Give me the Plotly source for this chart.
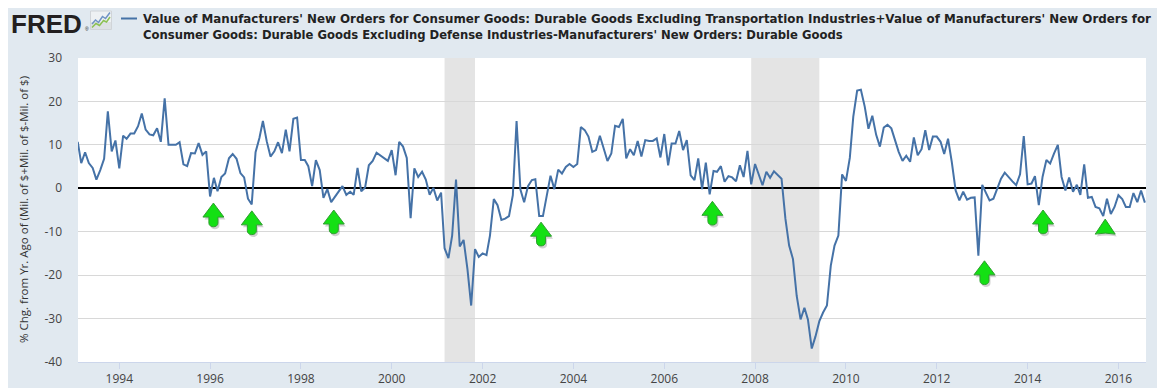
import pandas as pd
import plotly.graph_objects as go

# ---------------- data ----------------
values = [
    10.7, 5.8, 8.3, 5.8, 4.7, 2.0, 4.2, 6.8, 17.7, 8.5,
    11.0, 4.6, 12.1, 11.4, 12.6, 12.6, 14.3, 17.2, 13.5, 12.4,
    12.2, 13.8, 10.7, 20.7, 10.0, 10.0, 10.0, 10.6, 5.5, 5.1,
    8.1, 8.0, 10.4, 7.7, 8.5, -1.9, 2.4, -0.7, 2.6, 3.4,
    6.9, 7.9, 6.8, 3.5, 2.5, -2.4, -3.7, 8.3, 11.6, 15.5,
    10.8, 7.3, 8.5, 10.6, 8.1, 13.5, 8.5, 16.0, 16.3, 6.5,
    6.5, 5.1, 0.5, 6.5, 4.2, -2.2, -0.2, -3.2, -2.0, -0.7,
    0.5, -1.5,
    -0.8, -1.5, 4.7, -0.7, 0.2, 5.3, 6.3, 8.2, 7.6, 7.1,
    6.3, 8.8, 3.0, 10.7, 9.6, 7.0, -6.9, 4.6, 2.6, 3.8,
    2.0, -1.5, 0.1, -2.8, -1.0, -13.8, -16.1, -10.9, 2.0, -13.4,
    -11.9, -18.6, -27.0, -14.0, -15.8, -15.0, -15.4, -10.9, -2.5, -3.9,
    -7.3, -7.0, -6.4, -1.6, 15.5, -0.3, -3.2, 0.5, 1.9, 2.1,
    -6.4, -6.4, -1.6, 2.9, -0.2, 4.3, 3.4, 4.9, 5.6, 4.9,
    5.6, 14.1, 13.4, 11.9, 8.4, 8.8, 12.1, 9.2, 6.3, 8.0,
    14.4, 14.1, 16.0, 6.9, 9.0, 7.6, 10.9, 7.3, 11.1, 10.9,
    10.9, 11.5, 7.1, 12.5, 5.3, 10.3, 10.3, 13.2, 8.8, 11.1,
    3.0, 1.9, 6.9, -0.2, 5.9, -1.4, 4.0, 3.8, 5.1, 1.5,
    2.8, 2.5, 1.6, 5.3, 2.6, 8.6, 0.9, 5.6, 3.0, 0.7,
    3.8, 2.4, 3.9, 3.0, 2.2, -7.0, -13.2, -16.3, -24.8, -30.2,
    -27.5, -30.2, -36.9, -34.1, -30.6, -28.6, -27.0, -17.8, -13.2, -10.9,
    3.2, 1.7, 7.0, 16.5, 22.5, 22.7, 18.8, 13.7, 16.7, 12.3,
    9.6, 14.0, 14.6, 13.8, 11.1, 8.4, 6.3, 7.5, 6.1, 11.7,
    7.6, 9.0, 13.4, 8.8, 11.9, 11.9, 10.7, 7.9, 11.4, 6.1,
    -0.5, -2.8, -0.8, -2.6, -2.2, -2.1, -15.5, 0.8, -1.1, -2.8,
    -2.4, -0.3, 2.2, 3.6, 2.5, 1.6, 0.7, 3.2, 12.0, 0.9,
    1.1, 2.8, -3.9, 2.6, 6.5, 5.7, 8.0, 10.0, 2.6, -0.5,
    2.5, -0.8, 0.8, -1.5, 5.5, -2.2, -2.0, -4.3, -4.6, -6.4,
    -2.4, -5.9, -4.3, -1.6, -2.5, -4.3, -4.3, -1.1, -3.2, -0.5,
    -3.3,
]
start_month = "1993-02-01"
dates = pd.date_range(start_month, periods=len(values), freq="MS")

recession_starts = ["2001-03-01", "2007-12-01"]
recession_ends = ["2001-11-01", "2009-06-01"]

arrow_dates = ["1996-01-28", "1996-12-02", "1998-09-22", "2003-04-16",
               "2007-01-23", "2013-01-19", "2014-05-05", "2015-09-17"]
arrow_tips = [-3.4, -5.2, -5.0, -7.8, -3.0, -16.7, -5.0, -7.1]
arrow_has_stem = [True, True, True, True, True, True, True, False]

x_tick_years = [1994, 1996, 1998, 2000, 2002, 2004, 2006, 2008, 2010, 2012, 2014, 2016]
y_ticks = [-40, -30, -20, -10, 0, 10, 20, 30]

title_line1 = ("Value of Manufacturers' New Orders for Consumer Goods: Durable Goods Excluding "
               "Transportation Industries+Value of Manufacturers' New Orders for")
title_line2 = ("Consumer Goods: Durable Goods Excluding Defense Industries-Manufacturers' "
               "New Orders: Durable Goods")
y_title = "% Chg. from Yr. Ago of (Mil. of $+Mil. of $-Mil. of $)"

# ---------------- layout geometry ----------------
# the page body adds an 8 px offset, so the figure is 8 px smaller and
# every screen position below is shifted by OFF.
OFF = 8
W, H = 1165 - OFF, 388 - OFF
ML, MR, MT, MB = 78 - OFF, 19, 58 - OFF, 26
PW, PH = W - ML - MR, H - MT - MB


def px(x):
    """screen x (reference pixels) -> paper fraction"""
    return (x - OFF - ML) / PW


def py(y):
    """screen y (reference pixels) -> paper fraction"""
    return (H - MB - (y - OFF)) / PH


LINE_COLOR = "#4572a7"

fig = go.Figure()
fig.add_trace(go.Scatter(
    x=dates, y=values, mode="lines",
    line=dict(color=LINE_COLOR, width=2),
    hoverinfo="x+y", showlegend=False,
))

shapes = []
for s, e in zip(recession_starts, recession_ends):
    shapes.append(dict(type="rect", xref="x", yref="paper", x0=s, x1=e, y0=0, y1=1,
                       fillcolor="#e4e4e4", line=dict(width=0), layer="below"))


def arrow_path(stem, dx=0.0, dy=0.0):
    if stem:
        pts = ("M {a} {b} L {c} {d} L {e} {d} L {e} {f} C {e} {g} {h} {g} {h} {f} "
               "L {h} {d} L {i} {d} Z")
        return pts.format(a=0 + dx, b=0 + dy, c=10.5 + dx, d=-14 + dy, e=4.5 + dx,
                          f=-20 + dy, g=-25 + dy, h=-4.5 + dx, i=-10.5 + dx)
    return ("M {a} {b} L {c} {d} Q {a} {e} {f} {d} Z"
            .format(a=0 + dx, b=0 + dy, c=10 + dx, d=-15 + dy, e=-13 + dy, f=-10 + dx))


for d, t, st in zip(arrow_dates, arrow_tips, arrow_has_stem):
    shapes.append(dict(type="path", xref="x", yref="y", xsizemode="pixel", ysizemode="pixel",
                       xanchor=d, yanchor=t, path=arrow_path(st, 1.5, -2.5),
                       fillcolor="rgba(0,0,0,0.18)", line=dict(width=0), layer="above"))
    shapes.append(dict(type="path", xref="x", yref="y", xsizemode="pixel", ysizemode="pixel",
                       xanchor=d, yanchor=t, path=arrow_path(st),
                       fillcolor="#14e014", line=dict(color="#2f9e2f", width=1), layer="above"))

# legend sample line
shapes.append(dict(type="line", xref="paper", yref="paper", x0=px(121), x1=px(137),
                   y0=py(18.5), y1=py(18.5), line=dict(color=LINE_COLOR, width=2)))

# FRED icon (small chart glyph)
shapes.append(dict(type="rect", xref="paper", yref="paper", x0=px(90.5), x1=px(111.5),
                   y0=py(29.5), y1=py(11), fillcolor="#eef1f3",
                   line=dict(color="#d0d4d8", width=1)))
shapes.append(dict(type="rect", xref="paper", yref="paper", x0=px(91), x1=px(111),
                   y0=py(29), y1=py(22), fillcolor="#dde1e4", line=dict(width=0)))


def poly(points):
    return "M " + " L ".join("{} {}".format(px(a), py(b)) for a, b in points)


shapes.append(dict(type="path", xref="paper", yref="paper",
                   path=poly([(92, 24), (95.5, 20), (98.5, 22.5), (102.5, 16.5), (105.5, 18.5), (110, 12.5)]),
                   line=dict(color="#6f93c4", width=1.5)))
shapes.append(dict(type="path", xref="paper", yref="paper",
                   path=poly([(92, 27.5), (96, 23.5), (99.5, 25.5), (103.5, 20.5), (106.5, 22), (110, 17)]),
                   line=dict(color="#8cc152", width=1.5)))

annotations = [
    dict(text="<b>FRED</b>", xref="paper", yref="paper", x=px(10), y=py(8.3),
         xanchor="left", yanchor="top", showarrow=False, borderpad=0,
         font=dict(family="Liberation Sans", size=26, color="#231f20")),
    dict(text="®", xref="paper", yref="paper", x=px(84), y=py(29),
         xanchor="left", yanchor="middle", showarrow=False, borderpad=0,
         font=dict(family="Liberation Sans", size=5, color="#231f20")),
    dict(text="<b>" + title_line1 + "</b>", xref="paper", yref="paper", x=px(141), y=py(18.5),
         xanchor="left", yanchor="middle", showarrow=False,
         font=dict(family="DejaVu Sans", size=11.85, color="#222222")),
    dict(text="<b>" + title_line2 + "</b>", xref="paper", yref="paper", x=px(141), y=py(34.5),
         xanchor="left", yanchor="middle", showarrow=False,
         font=dict(family="DejaVu Sans", size=11.6, color="#222222")),
    dict(text=y_title, xref="paper", yref="paper", x=px(23), y=py(210), textangle=-90,
         xanchor="center", yanchor="middle", showarrow=False,
         font=dict(family="Open Sans", size=11.5, color="#333333")),
]

fig.update_layout(
    width=W, height=H,
    margin=dict(l=ML, r=MR, t=MT, b=MB, pad=0, autoexpand=False),
    paper_bgcolor="#e1e9f0",
    plot_bgcolor="#ffffff",
    shapes=shapes,
    annotations=annotations,
    showlegend=False,
    xaxis=dict(
        type="date",
        range=["1993-02-03", "2016-08-10"],
        tickvals=["{}-01-01".format(yv) for yv in x_tick_years],
        ticktext=[str(yv) for yv in x_tick_years],
        showgrid=False, zeroline=False, automargin=False,
        showline=True, linecolor="#ccd6eb", linewidth=1,
        ticks="outside", ticklen=6, tickcolor="#ccd6eb", tickwidth=1,
        tickfont=dict(family="Open Sans", size=12, color="#444444"),
    ),
    yaxis=dict(
        range=[-40, 30],
        tickvals=y_ticks,
        ticktext=[str(v) for v in y_ticks],
        showgrid=True, gridcolor="#d8d8d8", gridwidth=1, automargin=False,
        zeroline=True, zerolinecolor="#000000", zerolinewidth=2,
        showline=False, ticks="",
        ticklabelstandoff=15,
        tickfont=dict(family="Open Sans", size=12, color="#444444"),
    ),
)

fig.write_html("out.html")
